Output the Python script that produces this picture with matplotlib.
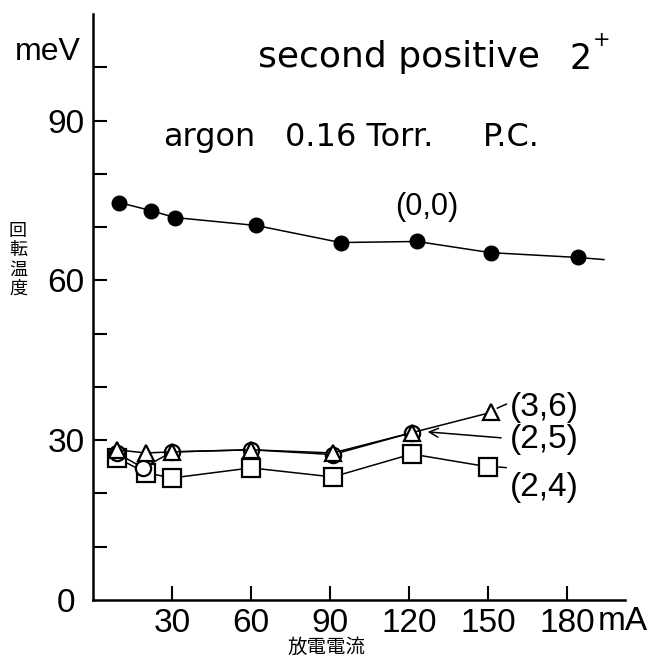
import numpy as np
import matplotlib.pyplot as plt

plt.rcParams['font.family'] = ['Liberation Sans', 'DejaVu Sans']

# 放電電流 (mA) と回転温度 (meV)
current_00 = [10, 22, 31, 62, 94, 123, 151, 184]
temp_00 = [74.6, 73.1, 71.8, 70.3, 67.1, 67.3, 65.2, 64.3]
tail_00 = ([184, 194], [64.3, 63.9])

current_36 = [9, 20, 30, 60, 91, 121, 151]
temp_36 = [28.2, 27.6, 27.8, 28.2, 27.6, 31.4, 35.2]

current_25 = [9, 19, 30, 60, 91, 121]
temp_25 = [27.6, 24.8, 27.8, 28.2, 27.3, 31.4]

current_24 = [9, 20, 30, 60, 91, 121, 150]
temp_24 = [26.7, 23.9, 22.9, 24.8, 23.1, 27.4, 25.0]

x_ticks = [30, 60, 90, 120, 150, 180]
y_ticks = [10, 20, 30, 40, 50, 60, 70, 80, 90, 100]
y_labels = ['', '', '30', '', '', '60', '', '', '90', '']

W, H = 650, 662
fig = plt.figure(figsize=(W / 100, H / 100), dpi=100)
ax = fig.add_axes([93 / W, 62 / H, 532 / W, 586 / H])

ax.plot(current_00, temp_00, color='black', lw=1.1, marker='o', ms=10.5,
        mfc='black', mec='black')
ax.plot(*tail_00, color='black', lw=1.1)

open_style = dict(color='black', lw=1.1, mfc='white', mec='black', mew=1.6)
ax.plot(current_24, temp_24, marker='s', ms=12.5, **open_style)
ax.plot(current_25, temp_25, marker='o', ms=11, **open_style)
ax.plot(current_36, temp_36, marker='^', ms=12, **open_style)

ax.set_xlim(0, 202)
ax.set_ylim(0, 110)
ax.set_xticks(x_ticks)
ax.set_xticklabels([str(v) for v in x_ticks])
ax.set_yticks(y_ticks)
ax.set_yticklabels(y_labels)
ax.tick_params(direction='in', length=10, width=1.5, labelsize=24, pad=6)
for side in ['top', 'right']:
    ax.spines[side].set_visible(False)
for side in ['left', 'bottom']:
    ax.spines[side].set_linewidth(1.8)

ax.text(-10.3, -0.6, '0', fontsize=24, ha='center', va='center', clip_on=False)
ax.text(201, -4.1, 'mA', fontsize=24, ha='center', va='center', clip_on=False)
ax.text(-17, 102.8, 'meV', fontsize=23, ha='center', va='center', clip_on=False)

# 見出し (字間の広い書体に合わせて DejaVu Sans を使う)
head = dict(family='DejaVu Sans', va='center')
ax.text(62.7, 101.9, 'second positive', fontsize=26, ha='left', **head)
ax.text(185.3, 101.6, '2', fontsize=25, ha='center', **head)
ax.text(189.6, 105.2, '+', fontsize=15, ha='left', **head)
ax.text(26.6, 86.8, 'argon', fontsize=23, ha='left', **head)
ax.text(72.9, 86.8, '0.16 Torr.', fontsize=23, ha='left', **head)
ax.text(148, 86.8, 'P.C.', fontsize=23, ha='left', **head)

ax.text(126.8, 73.7, '(0,0)', fontsize=22, ha='center', va='center')
ax.text(158.4, 36.1, '(3,6)', fontsize=24, ha='left', va='center')
ax.text(158.4, 30.1, '(2,5)', fontsize=24, ha='left', va='center')
ax.text(158.4, 21.2, '(2,4)', fontsize=24, ha='left', va='center')

ax.annotate('', xy=(152.5, 35.8), xytext=(158, 37.0),
            arrowprops=dict(arrowstyle='-', color='black', lw=1.1))
ax.annotate('', xy=(126, 31.6), xytext=(156, 30.4),
            arrowprops=dict(arrowstyle='->', color='black', lw=1.1,
                            mutation_scale=16))
ax.annotate('', xy=(153, 25.0), xytext=(158, 24.8),
            arrowprops=dict(arrowstyle='-', color='black', lw=1.1))

cjk = ['Noto Sans CJK JP', 'DejaVu Sans']
fig.text(18 / W, 1 - 260 / H, '回\n転\n温\n度', fontsize=13, family=cjk,
         ha='center', va='center', linespacing=1.1)
fig.text(327 / W, 1 - 647 / H, '放電電流', fontsize=14, family=cjk,
         ha='center', va='center')

fig.savefig('out.png', dpi=100)
